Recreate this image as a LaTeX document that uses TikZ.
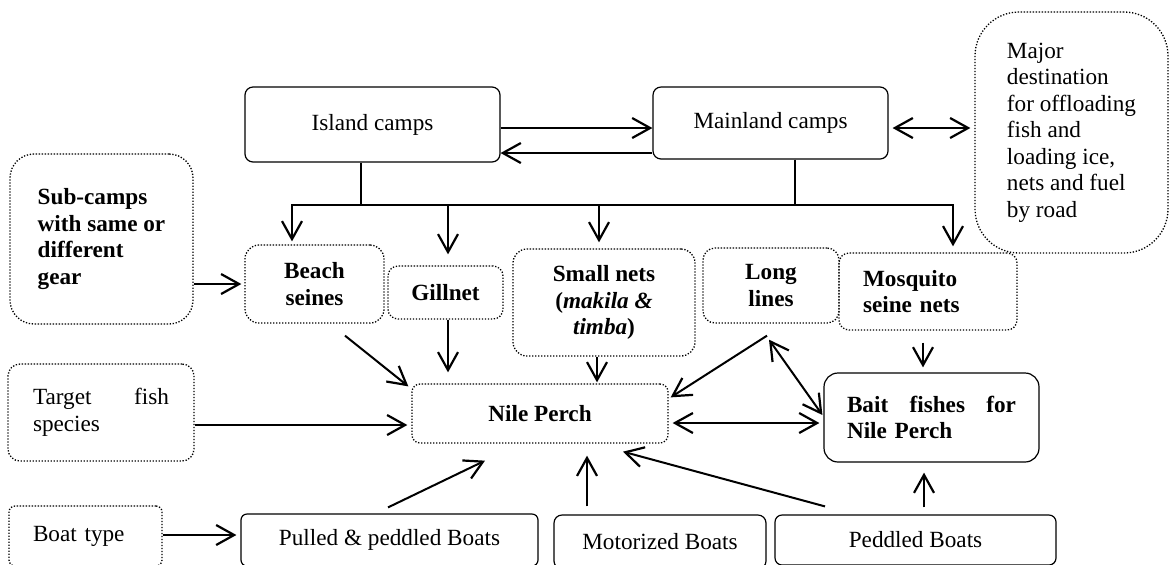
\documentclass[tikz,border=0pt]{standalone}
\usepackage{fontspec}
\setmainfont{Liberation Serif}
\usetikzlibrary{arrows.meta,calc}
\tikzset{
  solidbox/.style={draw, line width=0.6pt, inner sep=0pt},
  dotbox/.style={draw, line width=0.65pt, dash pattern=on 0.65pt off 0.85pt, inner sep=0pt},
  heavy/.style={font=\fontsize{11.6}{13.25}\selectfont\bfseries},
  flow/.style={line width=1pt, -{Straight Barb[length=9pt,width=10pt,line width=1.1pt]}},
  twoway/.style={line width=1pt, {Straight Barb[length=9pt,width=10pt,line width=1.1pt]}-{Straight Barb[length=9pt,width=10pt,line width=1.1pt]}},
}
\begin{document}
\begin{tikzpicture}[x=0.5pt,y=-0.5pt, font=\fontsize{11.6}{13.25}\selectfont]
\useasboundingbox[fill=white] (0,0) rectangle (1170,564);

% camps and landing site
\node[solidbox, rounded corners=4pt, minimum width=127.5pt, minimum height=37.5pt] (island) at (372.5,124.5) {Island camps};
\node[solidbox, rounded corners=4pt, minimum width=117.5pt, minimum height=36pt] (mainland) at (770.5,123) {Mainland camps};
\node[dotbox, rounded corners=22pt, minimum width=96.5pt, minimum height=120.5pt, align=left] (major) at (1071.5,132.5)
  {Major\\destination\\for offloading\\fish and\\loading ice,\\nets and fuel\\by road};

% gear
\node[dotbox, heavy, rounded corners=12pt, minimum width=91.5pt, minimum height=85pt, align=left] (sub) at (101.5,239)
  {Sub-camps\\with same or\\different\\gear};
\node[dotbox, heavy, rounded corners=7pt, minimum width=69.5pt, minimum height=39pt, align=center] (beach) at (314.5,284) {Beach\\seines};
\node[dotbox, heavy, rounded corners=5pt, minimum width=57.5pt, minimum height=26.5pt] (gill) at (445.5,292.5) {Gillnet};
\node[dotbox, heavy, rounded corners=7pt, minimum width=91pt, minimum height=53.5pt, align=center] (small) at (604,302.5)
  {Small nets\\(\textit{makila \&}\\\textit{timba})};
\node[dotbox, heavy, rounded corners=6pt, minimum width=68pt, minimum height=37.5pt, align=center] (long) at (771,285.5) {Long\\lines};
\node[dotbox, heavy, rounded corners=5pt, minimum width=89pt, minimum height=38.5pt, text width=65pt, align=left] (mosq) at (928,291.5)
  {Mosquito\\seine nets};

% species
\node[dotbox, rounded corners=6pt, minimum width=93pt, minimum height=48.5pt, text width=68pt, align=left] (target) at (101,412.5)
  {Target\hfill fish\\species};
\node[dotbox, heavy, rounded corners=4pt, minimum width=128pt, minimum height=29.5pt] (nile) at (540,413.5) {Nile Perch};
\node[solidbox, heavy, rounded corners=7pt, minimum width=107.5pt, minimum height=44.5pt, text width=84.5pt, align=left] (bait) at (931.5,417.5)
  {Bait\hfill fishes\hfill for\\Nile Perch};

% boats
\node[dotbox, rounded corners=3pt, minimum width=76.5pt, minimum height=30pt, text width=52.5pt, align=left] (boat) at (85.5,536) {Boat type};
\node[solidbox, rounded corners=3pt, minimum width=148.5pt, minimum height=26pt] (pulled) at (389.5,540) {Pulled \& peddled Boats};
\node[solidbox, rounded corners=4pt, minimum width=106pt, minimum height=27pt] (motor) at (660,542) {Motorized Boats};
\node[solidbox, rounded corners=3.5pt, minimum width=140.5pt, minimum height=25pt] (pedd) at (915.5,540) {Peddled Boats};

% camp links
\draw[flow] ($(island.east)+(0,3.5)$) -- ($(mainland.west)+(0,5)$);
\draw[flow] ($(mainland.west)+(0,30)$) -- ($(island.east)+(0,28.5)$);
\draw[twoway] ($(mainland.east)+(4,5)$) -- ($(major.west)+(-4,-4.5)$);

% distribution bus from the camps to the gear
\coordinate (busL) at (292,205);
\coordinate (busI) at (361,205);
\coordinate (busG) at (448,205);
\coordinate (busS) at (599,205);
\coordinate (busM) at (795,205);
\coordinate (busR) at (953,205);
\draw[line width=0.8pt] (island.south -| busI) -- (busI);
\draw[line width=0.8pt] (mainland.south -| busM) -- (busM);
\draw[flow] (busR) -- (busL) -- ($(busL |- beach.north)+(0,-3)$);
\draw[flow] (busL) -- (busR) -- ($(busR |- mosq.north)+(0,-6)$);
\draw[flow] (busG) -- ($(busG |- gill.north)+(0,-11)$);
\draw[flow] (busS) -- ($(busS |- small.north)+(0,-6)$);

% gear to species
\draw[flow] (sub.east |- beach.west) -- ($(beach.west)+(-3,0)$);
\draw[flow] ($(beach.south)+(30.5,12)$) -- ($(nile.north west)+(-3,3)$);
\draw[flow] ($(gill.south)+(2.5,0)$) -- ($(nile.north -| gill.south)+(2.5,-11)$);
\draw[flow] ($(small.south)+(-7,0)$) -- ($(nile.north -| small.south)+(-7,-1)$);
\draw[flow] ($(long.south)+(-4,12)$) -- ($(nile.north east)+(2,14)$);
\draw[twoway] ($(long.south)+(-2,16)$) -- ($(bait.west)+(-1,-2.5)$);
\draw[flow] ($(mosq.south)+(-5,12)$) -- ($(bait.north)+(-8.5,-5)$);
\draw[flow] ($(target.east)+(0,12.5)$) -- ($(nile.west)+(-4,11.5)$);
\draw[twoway] ($(nile.east)+(4,9.5)$) -- ($(bait.west)+(-4,5.5)$);

% boats to species
\draw[flow] ($(boat.east)+(0,-1)$) -- ($(pulled.west)+(-4,-5)$);
\draw[flow] ($(pulled.north)+(-1.5,-6)$) -- ($(nile.south)+(-55,17)$);
\draw[flow] ($(motor.north)+(-73,-8)$) -- ($(nile.south)+(47,12)$);
\draw[flow] ($(pedd.north)+(-90.5,-8)$) -- ($(nile.south)+(83,8)$);
\draw[flow] ($(pedd.north)+(8.5,-7)$) -- ($(bait.south)+(-7.5,10)$);
\end{tikzpicture}
\end{document}
